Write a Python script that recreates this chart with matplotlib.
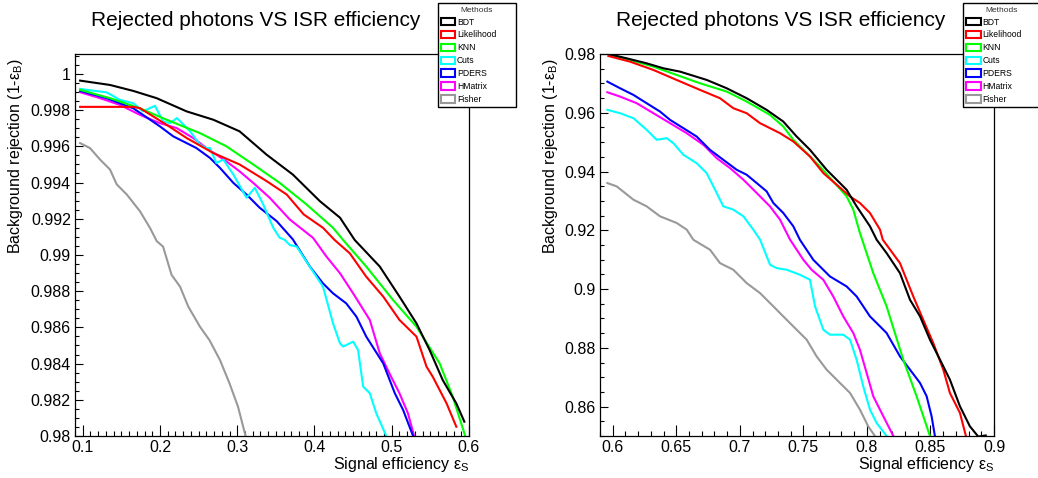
import matplotlib
matplotlib.use('Agg')
import matplotlib.pyplot as plt
from matplotlib.patches import Patch
from matplotlib.ticker import FixedLocator, MultipleLocator

plt.rcParams['font.family'] = ['Liberation Sans', 'DejaVu Sans']
plt.rcParams['mathtext.default'] = 'regular'

# Métodos e cores (estilo ROOT)
methods = ['BDT', 'Likelihood', 'KNN', 'Cuts', 'PDERS', 'HMatrix', 'Fisher']
colors = ['#000000', '#ff0000', '#00ff00', '#00ffff', '#0000ff', '#ff00ff', '#999999']

# ---- Painel esquerdo: eficiência de sinal 0.1 - 0.6 ----
bdt_x_l = [0.0966, 0.1353, 0.1655, 0.1957, 0.2345, 0.269, 0.303, 0.338, 0.372, 0.407, 0.433, 0.452,
           0.4845, 0.510, 0.532, 0.549, 0.566, 0.5836, 0.594]
bdt_y_l = [0.99963, 0.99939, 0.99906, 0.99866, 0.99793, 0.99747, 0.99683, 0.99554, 0.99444, 0.99297,
           0.99206, 0.99083, 0.98936, 0.98770, 0.98622, 0.98475, 0.98309, 0.9818, 0.98079]

lik_x_l = [0.0966, 0.1655, 0.174, 0.2086, 0.2345, 0.269, 0.303, 0.338, 0.364, 0.386, 0.411, 0.426,
           0.4457, 0.467, 0.489, 0.510, 0.532, 0.545, 0.553, 0.571, 0.5836]
lik_y_l = [0.99818, 0.99818, 0.99811, 0.99719, 0.99646, 0.99563, 0.99500, 0.99408, 0.99334, 0.99224,
           0.9915, 0.99083, 0.99009, 0.9888, 0.9877, 0.98641, 0.98549, 0.98383, 0.98328, 0.9818, 0.98051]

knn_x_l = [0.0966, 0.1353, 0.174, 0.2086, 0.2517, 0.286, 0.3207, 0.355, 0.3897, 0.424, 0.437, 0.467,
           0.5017, 0.532, 0.562, 0.579, 0.594, 0.597]
knn_y_l = [0.99912, 0.99866, 0.9981, 0.99747, 0.99673, 0.996, 0.995, 0.99398, 0.99279, 0.9915, 0.99083,
           0.98936, 0.98751, 0.98604, 0.98401, 0.98217, 0.98015, 0.9797]

cuts_x_l = [0.0966, 0.131, 0.148, 0.1655, 0.178, 0.1935, 0.204, 0.213, 0.222, 0.239, 0.2517, 0.260,
            0.2647, 0.273, 0.282, 0.295, 0.312, 0.3228, 0.3336, 0.3466, 0.355, 0.3616, 0.368, 0.377,
            0.3897, 0.411, 0.424, 0.433, 0.437, 0.450, 0.4564, 0.463, 0.4716, 0.480, 0.493]
cuts_y_l = [0.99917, 0.99898, 0.99857, 0.99838, 0.99793, 0.99824, 0.99738, 0.99728, 0.99756, 0.99683,
            0.99609, 0.99591, 0.99591, 0.99508, 0.99527, 0.99444, 0.99316, 0.99371, 0.99279, 0.9915,
            0.99095, 0.99083, 0.99055, 0.99046, 0.98963, 0.98825, 0.98622, 0.98512, 0.98494, 0.98521,
            0.98475, 0.98273, 0.98236, 0.98125, 0.98]

pders_x_l = [0.0966, 0.131, 0.1655, 0.200, 0.2172, 0.247, 0.2647, 0.2776, 0.295, 0.312, 0.329, 0.351,
             0.372, 0.394, 0.411, 0.424, 0.441, 0.4543, 0.467, 0.489, 0.504, 0.5147, 0.5276]
pders_y_l = [0.99906, 0.99866, 0.9981, 0.9971, 0.99655, 0.99591, 0.99536, 0.99481, 0.99398, 0.99334,
             0.99261, 0.99187, 0.99086, 0.98936, 0.98843, 0.98788, 0.98733, 0.98659, 0.98549, 0.98401,
             0.98236, 0.98144, 0.98]

hmat_x_l = [0.0966, 0.1224, 0.148, 0.174, 0.200, 0.2216, 0.243, 0.260, 0.286, 0.303, 0.3207, 0.342,
            0.368, 0.398, 0.4155, 0.433, 0.450, 0.4716, 0.4845, 0.497, 0.510, 0.521, 0.529]
hmat_y_l = [0.99899, 0.99866, 0.99829, 0.99774, 0.99728, 0.99701, 0.99646, 0.99591, 0.99517, 0.99462,
            0.99398, 0.99316, 0.99196, 0.99095, 0.98991, 0.98899, 0.98788, 0.98641, 0.98457, 0.98346,
            0.98236, 0.98125, 0.98]

fish_x_l = [0.0966, 0.1095, 0.1224, 0.1353, 0.144, 0.157, 0.174, 0.187, 0.1957, 0.204, 0.215, 0.226,
            0.2366, 0.2517, 0.264, 0.2776, 0.290, 0.301, 0.3108]
fish_y_l = [0.99618, 0.9959, 0.99527, 0.99472, 0.9939, 0.99334, 0.99242, 0.9915, 0.99077, 0.99046,
            0.9889, 0.98825, 0.98715, 0.98604, 0.9853, 0.9842, 0.98291, 0.98162, 0.98]

# ---- Painel direito: eficiência de sinal 0.6 - 0.9 ----
bdt_x_r = [0.5966, 0.611, 0.6267, 0.6399, 0.653, 0.674, 0.6897, 0.7054, 0.7211, 0.7342, 0.7447, 0.7552,
           0.7683, 0.784, 0.7919, 0.8024, 0.8077, 0.8155, 0.826, 0.8339, 0.8418, 0.8496, 0.8575, 0.8653,
           0.8732, 0.881, 0.8876, 0.8935]
bdt_y_r = [0.98, 0.97853, 0.97683, 0.97513, 0.974, 0.97117, 0.96834, 0.96495, 0.96099, 0.95702, 0.95193,
           0.9474, 0.94061, 0.93382, 0.92817, 0.92138, 0.91677, 0.91224, 0.90544, 0.89637, 0.89071,
           0.88278, 0.87598, 0.86918, 0.86011, 0.85331, 0.8498, 0.8502]

lik_x_r = [0.5966, 0.6136, 0.632, 0.6503, 0.6687, 0.6844, 0.6949, 0.7054, 0.7159, 0.7316, 0.7421, 0.7552,
           0.7657, 0.7762, 0.7866, 0.7945, 0.8024, 0.8103, 0.8125, 0.826, 0.8365, 0.8443, 0.8522, 0.8601,
           0.8653, 0.8732, 0.8779]
lik_y_r = [0.97932, 0.9774, 0.97457, 0.97117, 0.96778, 0.96495, 0.96155, 0.95985, 0.95646, 0.95306,
           0.95023, 0.94514, 0.93948, 0.93552, 0.93156, 0.92929, 0.9259, 0.92024, 0.9168, 0.90884, 0.8975,
           0.88957, 0.88165, 0.87258, 0.86465, 0.85785, 0.85]

knn_x_r = [0.5966, 0.6136, 0.632, 0.6503, 0.6687, 0.6897, 0.7054, 0.7237, 0.7342, 0.7421, 0.7526, 0.763,
           0.7735, 0.784, 0.7893, 0.7945, 0.805, 0.8155, 0.8286, 0.8391, 0.8496]
knn_y_r = [0.98, 0.97796, 0.9757, 0.97287, 0.97004, 0.96721, 0.96382, 0.95929, 0.95533, 0.9508, 0.94627,
           0.94174, 0.93665, 0.93156, 0.92703, 0.91911, 0.90544, 0.89411, 0.87598, 0.86352, 0.85]

cuts_x_r = [0.5958, 0.6058, 0.6163, 0.6267, 0.6346, 0.6425, 0.6477, 0.6556, 0.666, 0.6739, 0.6792, 0.687,
            0.6949, 0.7028, 0.7106, 0.7159, 0.7238, 0.729, 0.7369, 0.7473, 0.7552, 0.7592, 0.7657, 0.7709,
            0.7814, 0.7867, 0.7919, 0.7971, 0.8024, 0.8076, 0.8155]
cuts_y_r = [0.96099, 0.95985, 0.95815, 0.9542, 0.9508, 0.95136, 0.94967, 0.9457, 0.94287, 0.93948,
            0.93495, 0.92816, 0.92703, 0.92477, 0.92024, 0.91685, 0.90827, 0.90714, 0.90657, 0.90487,
            0.90317, 0.89411, 0.88618, 0.88448, 0.88448, 0.88278, 0.87598, 0.86692, 0.85899, 0.85446, 0.85]

pders_x_r = [0.5958, 0.6058, 0.6163, 0.6267, 0.6372, 0.6451, 0.6556, 0.666, 0.6765, 0.687, 0.6975, 0.7054,
             0.7133, 0.7211, 0.7264, 0.7342, 0.7421, 0.7473, 0.7578, 0.7709, 0.784, 0.7919, 0.8024, 0.8103,
             0.8155, 0.826, 0.8339, 0.8418, 0.847, 0.8509, 0.8535]
pders_y_r = [0.9706, 0.96834, 0.96608, 0.96325, 0.96042, 0.95759, 0.95476, 0.95193, 0.9474, 0.944,
             0.94061, 0.93891, 0.93608, 0.93325, 0.92929, 0.9259, 0.92137, 0.91677, 0.90997, 0.90431,
             0.90091, 0.89751, 0.89071, 0.88731, 0.88504, 0.87711, 0.87258, 0.86805, 0.86352, 0.85672, 0.85]

hmat_x_r = [0.5958, 0.6058, 0.6189, 0.632, 0.6451, 0.6582, 0.6713, 0.6818, 0.6923, 0.7028, 0.7133, 0.7237,
            0.7316, 0.7395, 0.75, 0.7565, 0.7657, 0.7735, 0.7814, 0.7893, 0.7945, 0.7998, 0.805, 0.8129,
            0.8208]
hmat_y_r = [0.96698, 0.96551, 0.96325, 0.95985, 0.95646, 0.95306, 0.9491, 0.94457, 0.94118, 0.93722,
            0.93269, 0.92816, 0.92364, 0.91685, 0.90997, 0.90657, 0.90317, 0.89751, 0.89071, 0.88504,
            0.87938, 0.87145, 0.86352, 0.85672, 0.85]

fish_x_r = [0.5958, 0.6031, 0.6163, 0.6267, 0.6372, 0.6503, 0.6582, 0.6635, 0.6766, 0.6844, 0.6949, 0.7054,
            0.7159, 0.7264, 0.7342, 0.7447, 0.7526, 0.7604, 0.7683, 0.7788, 0.7867, 0.7945, 0.801, 0.8063]
fish_y_r = [0.93608, 0.93495, 0.93042, 0.92816, 0.92477, 0.9225, 0.92024, 0.91677, 0.91337, 0.90884,
            0.90657, 0.90204, 0.89864, 0.89411, 0.89071, 0.88618, 0.88278, 0.87711, 0.87258, 0.86805,
            0.86465, 0.85899, 0.85332, 0.85]

# Ticks
xticks_l = [0.1, 0.2, 0.3, 0.4, 0.5, 0.6]
yticks_l = [0.98, 0.982, 0.984, 0.986, 0.988, 0.99, 0.992, 0.994, 0.996, 0.998, 1.0]
xticks_r = [0.6, 0.65, 0.7, 0.75, 0.8, 0.85, 0.9]
yticks_r = [0.86, 0.88, 0.9, 0.92, 0.94, 0.96, 0.98]

titulo = 'Rejected photons VS ISR efficiency'
xlab = r'Signal efficiency ε$_{S}$'
ylab = r'Background rejection (1-ε$_{B}$)'

curvas_l = [(bdt_x_l, bdt_y_l), (lik_x_l, lik_y_l), (knn_x_l, knn_y_l), (cuts_x_l, cuts_y_l),
            (pders_x_l, pders_y_l), (hmat_x_l, hmat_y_l), (fish_x_l, fish_y_l)]
curvas_r = [(bdt_x_r, bdt_y_r), (lik_x_r, lik_y_r), (knn_x_r, knn_y_r), (cuts_x_r, cuts_y_r),
            (pders_x_r, pders_y_r), (hmat_x_r, hmat_y_r), (fish_x_r, fish_y_r)]

W, H = 1038, 478
fig = plt.figure(figsize=(W / 100, H / 100), dpi=100)

def px_axes(x0, y0, x1, y1):
    return fig.add_axes([x0 / W, 1 - y1 / H, (x1 - x0) / W, (y1 - y0) / H])

ax_l = px_axes(75, 54, 469, 436)
ax_r = px_axes(600, 54, 994, 436)

paineis = [
    (ax_l, curvas_l, xticks_l, yticks_l, (0.09, 0.6), (0.98, 1.0011), 0.01, 0.0005, 256, 437.7, -0.1396),
    (ax_r, curvas_r, xticks_r, yticks_r, (0.59, 0.9), (0.85, 0.98), 0.01, 0.005, 781, 963, -0.114),
]

for ax, curvas, xt, yt, xlim, ylim, xminor, yminor, tx, legx, ylab_x in paineis:
    # Ordem de desenho: Fisher por baixo, BDT por cima
    for (xs, ys), cor in reversed(list(zip(curvas, colors))):
        ax.plot(xs, ys, color=cor, lw=1.5, solid_joinstyle='round')
    ax.set_xlim(*xlim)
    ax.set_ylim(*ylim)
    ax.xaxis.set_major_locator(FixedLocator(xt))
    ax.yaxis.set_major_locator(FixedLocator(yt))
    ax.set_xticklabels([f'{v:g}' for v in xt])
    ax.set_yticklabels([f'{v:g}' for v in yt])
    ax.xaxis.set_minor_locator(MultipleLocator(xminor))
    ax.yaxis.set_minor_locator(MultipleLocator(yminor))
    ax.tick_params(which='both', direction='in', labelsize=11.5, pad=3, width=0.8)
    ax.xaxis.set_tick_params(which='major', length=8)
    ax.xaxis.set_tick_params(which='minor', length=3.6)
    ax.yaxis.set_tick_params(which='major', length=5.8)
    ax.yaxis.set_tick_params(which='minor', length=3)
    for s in ax.spines.values():
        s.set_linewidth(0.9)

    ax.set_xlabel(xlab, fontsize=11.5, ha='right', va='baseline')
    ax.xaxis.set_label_coords(1.0, -0.0864)
    ax.set_ylabel(ylab, fontsize=11.5, ha='right', va='baseline')
    ax.yaxis.set_label_coords(ylab_x, 0.99)

    fig.text(tx / W, 1 - 20 / H, titulo, fontsize=15, ha='center', va='center')

    handles = [Patch(facecolor='white', edgecolor=c, linewidth=1.5, label=m) for m, c in zip(methods, colors)]
    leg = ax.legend(handles=handles, title='Methods', loc='upper left',
                    bbox_to_anchor=(legx / W, 1 - 3.3 / H, 78 / W, 0), bbox_transform=fig.transFigure,
                    mode='expand', fontsize=6.2, title_fontsize=6.0, fancybox=False, framealpha=1,
                    edgecolor='black', borderaxespad=0, handlelength=1.65, handleheight=0.95,
                    handletextpad=0.2, labelspacing=0.45, borderpad=0.4)
    leg.get_frame().set_linewidth(1.0)
    leg.get_title().set_color('#333333')

fig.savefig('out.png', dpi=100)
